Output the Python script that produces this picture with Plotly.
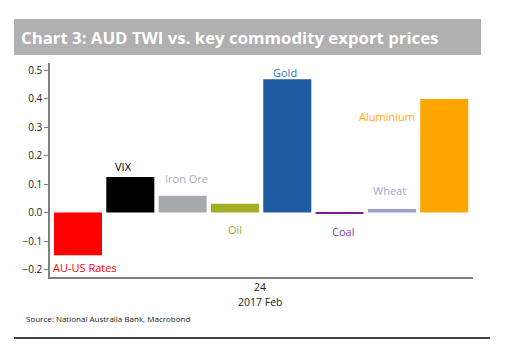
import plotly.graph_objects as go

categories = ["AU-US Rates", "VIX", "Iron Ore", "Oil", "Gold", "Coal", "Wheat", "Aluminium"]
values = [-0.15, 0.125, 0.059, 0.031, 0.468, -0.002, 0.013, 0.399]
colors = ["#ff0000", "#000000", "#a5aaad", "#a4ae24", "#1f5aa3", "#7b1f8e", "#9c9cce", "#ffa500"]
label_colors = ["#ff0000", "#000000", "#a9aeb2", "#a4ae24", "#3f73b4", "#8a3a9c", "#a3a3d3", "#ffaa10"]
# label placement (pixel shift from bar centre, label y in data units)
label_dx = [7, -7, 4, 0, -2, 3, -2, -57]
label_y = [-0.192, 0.161, 0.119, -0.059, 0.49, -0.066, 0.077, 0.336]
ytick_vals = [-0.2, -0.1, 0.0, 0.1, 0.2, 0.3, 0.4, 0.5]

fig = go.Figure()
fig.add_trace(go.Bar(x=categories, y=values, marker=dict(color=colors, line=dict(width=0)),
                     showlegend=False, hoverinfo="skip"))

font_main = "Open Sans, DejaVu Sans, sans-serif"
ann = []
for c, ly, dx, lc in zip(categories, label_y, label_dx, label_colors):
    ann.append(dict(x=c, y=ly, xref="x", yref="y", text=c, showarrow=False,
                    xshift=dx, font=dict(size=11, color=lc, family=font_main)))

# title bar
shapes = [
    dict(type="rect", xref="paper", yref="paper", x0=-0.0851, x1=1.019, y0=1.0374, y1=1.2056,
         fillcolor="#b0b0b0", line=dict(width=0), layer="below"),
    dict(type="line", xref="paper", yref="paper", x0=-0.0851, x1=1.040, y0=-0.285, y1=-0.285,
         line=dict(color="#000000", width=1.5)),
]
ann.append(dict(x=-0.0733, y=1.121, xref="paper", yref="paper", xanchor="left", yanchor="middle",
                text="<b>Chart 3: AUD TWI vs. key commodity export prices</b>", showarrow=False,
                font=dict(size=16.8, color="#ffffff", family=font_main)))
ann.append(dict(x=0.4965, y=-0.047, xref="paper", yref="paper", text="24", showarrow=False,
                yanchor="middle", font=dict(size=10.5, color="#222222", family=font_main)))
ann.append(dict(x=0.4965, y=-0.117, xref="paper", yref="paper", text="2017 Feb", showarrow=False,
                yanchor="middle", font=dict(size=10.5, color="#222222", family=font_main)))
ann.append(dict(x=-0.0615, y=-0.1916, xref="paper", yref="paper", text="Source: National Australia Bank, Macrobond",
                showarrow=False, xanchor="left", yanchor="middle",
                font=dict(size=8, color="#222222", family=font_main)))

fig.update_layout(
    width=526, height=354,
    margin=dict(l=50, r=53, t=63, b=77),
    paper_bgcolor="white", plot_bgcolor="white",
    bargap=0.082,
    shapes=shapes, annotations=ann,
    xaxis=dict(range=[-0.535, 7.55], showticklabels=False, ticks="", showgrid=False, zeroline=False,
               showline=True, linecolor="#808080", linewidth=2),
    yaxis=dict(range=[-0.226, 0.525], tickvals=ytick_vals, tickformat=".1f", ticks="outside", ticklen=4,
               tickcolor="#808080", showgrid=False, zeroline=False, showline=True, linecolor="#808080",
               linewidth=1.5, tickfont=dict(size=10, color="#222222", family=font_main)),
)

fig.write_html("out.html")
